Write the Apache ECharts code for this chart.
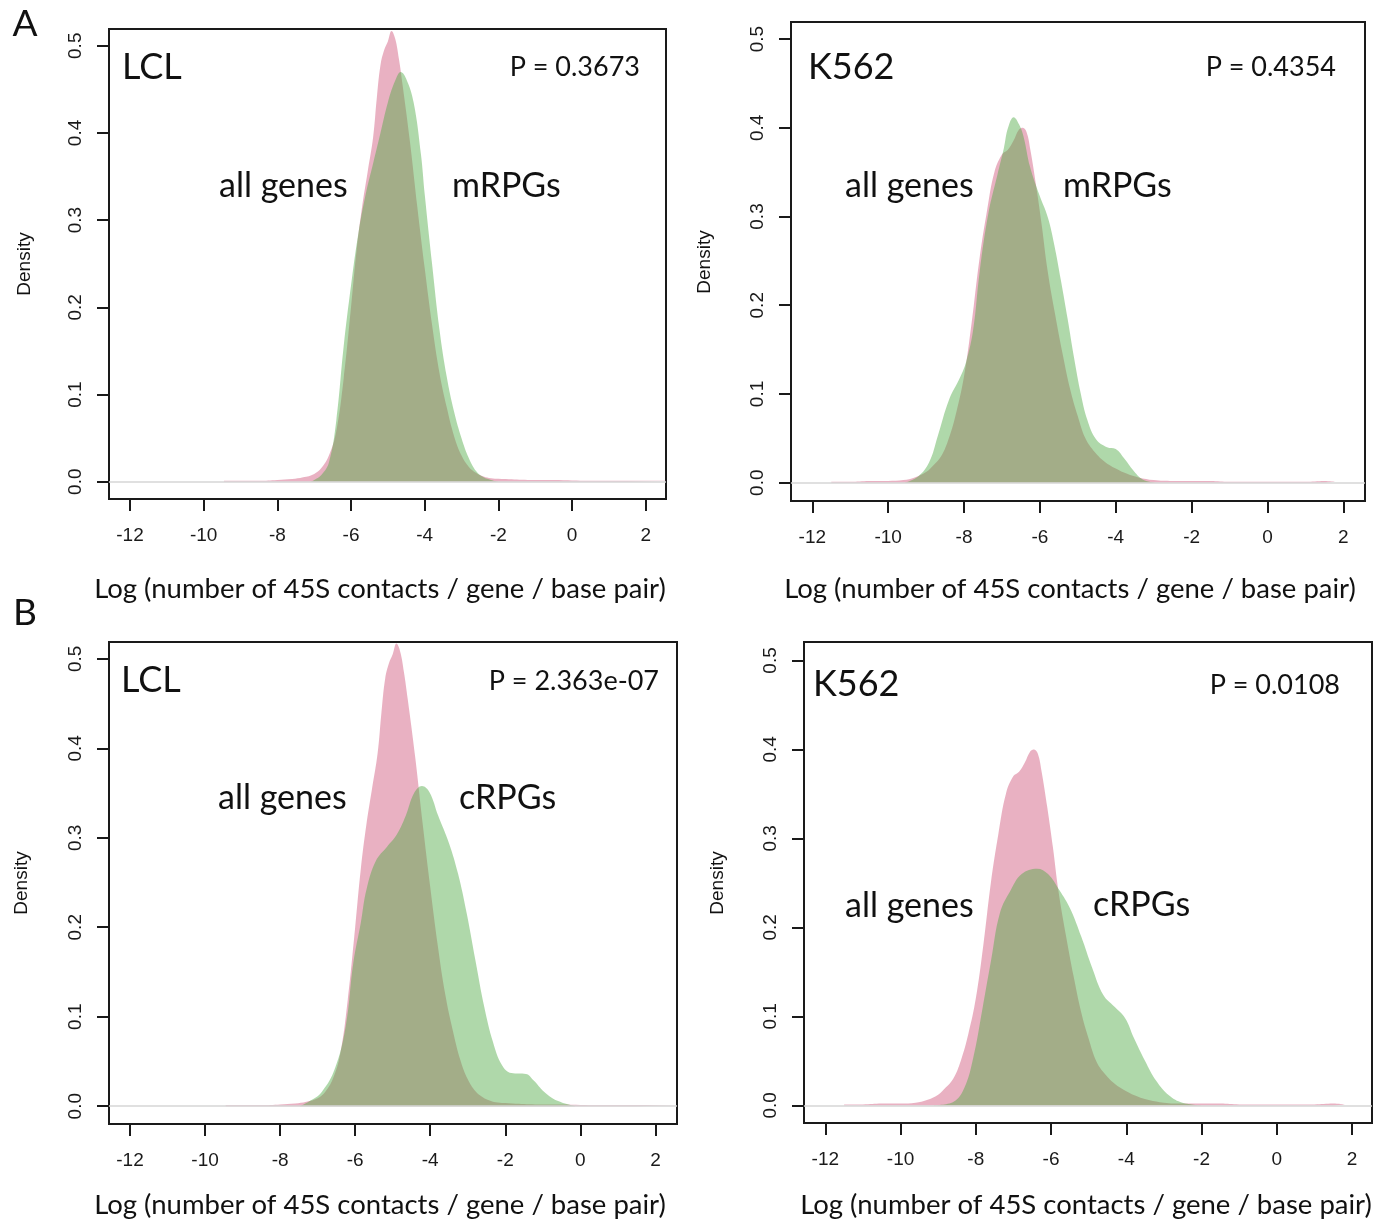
<!DOCTYPE html>
<html><head><meta charset="utf-8">
<script src="https://cdn.jsdelivr.net/npm/echarts@6/dist/echarts.min.js"></script>
<style>html,body{margin:0;padding:0;background:#fff}#c{width:1379px;height:1220px}</style>
</head><body><div id="c"></div>
<script>
// ---- data ----
const xTicks = [-12, -10, -8, -6, -4, -2, 0, 2];
const yTicks = [0, 0.1, 0.2, 0.3, 0.4, 0.5];

const lclAllGenes = [
  [-9.45,0.001],[-9.0,0.001],[-8.5,0.001],[-8.0,0.002],[-7.6,0.003],[-7.3,0.005],[-7.0,0.009],
  [-6.8,0.016],[-6.6,0.03],[-6.4,0.058],[-6.2,0.118],[-6.0,0.2],[-5.85,0.265],[-5.7,0.315],
  [-5.55,0.355],[-5.4,0.395],[-5.3,0.44],[-5.2,0.478],[-5.1,0.495],[-5.0,0.505],[-4.9,0.517],
  [-4.8,0.508],[-4.7,0.485],[-4.6,0.455],[-4.4,0.39],[-4.2,0.315],[-4.0,0.245],[-3.8,0.18],
  [-3.6,0.125],[-3.4,0.085],[-3.2,0.052],[-3.0,0.03],[-2.8,0.017],[-2.6,0.01],[-2.4,0.006],
  [-2.2,0.004],[-1.8,0.003],[-1.2,0.002],[-0.5,0.002],[0.5,0.001],[1.5,0.001],[2.6,0.001]
];
const lclMRPGs = [
  [-7.1,0.0],[-7.0,0.002],[-6.8,0.008],[-6.6,0.022],[-6.4,0.07],[-6.2,0.155],[-6.0,0.225],
  [-5.8,0.285],[-5.6,0.33],[-5.4,0.365],[-5.2,0.4],[-5.0,0.435],[-4.8,0.46],[-4.65,0.47],
  [-4.5,0.462],[-4.3,0.435],[-4.1,0.375],[-4.0,0.33],[-3.8,0.25],[-3.6,0.175],[-3.4,0.12],
  [-3.2,0.08],[-3.0,0.05],[-2.8,0.027],[-2.6,0.012],[-2.4,0.005],[-2.2,0.002],[-2.0,0.0]
];
const lclCRPGs = [
  [-7.47,0.0],[-7.24,0.005],[-6.89,0.016],[-6.54,0.042],[-6.25,0.09],[-6.05,0.16],[-5.85,0.205],
  [-5.7,0.242],[-5.45,0.274],[-5.15,0.29],[-4.9,0.303],[-4.65,0.325],[-4.43,0.35],[-4.22,0.358],
  [-4.02,0.351],[-3.79,0.325],[-3.5,0.294],[-3.26,0.26],[-3.03,0.216],[-2.8,0.164],[-2.56,0.111],
  [-2.33,0.072],[-2.09,0.046],[-1.84,0.037],[-1.45,0.036],[-1.25,0.029],[-0.96,0.016],
  [-0.61,0.006],[-0.14,0.0]
];
const k562AllGenes = [
  [-11.5,0.001],[-11.0,0.001],[-10.5,0.002],[-10.0,0.002],[-9.6,0.003],[-9.3,0.006],[-9.0,0.012],
  [-8.8,0.02],[-8.6,0.03],[-8.4,0.05],[-8.2,0.08],[-8.0,0.12],[-7.8,0.18],[-7.6,0.25],[-7.4,0.305],
  [-7.2,0.35],[-7.0,0.37],[-6.85,0.375],[-6.7,0.385],[-6.55,0.398],[-6.45,0.4],[-6.35,0.395],
  [-6.25,0.375],[-6.1,0.335],[-5.95,0.29],[-5.8,0.24],[-5.6,0.19],[-5.4,0.145],[-5.2,0.105],
  [-5.0,0.075],[-4.8,0.05],[-4.6,0.037],[-4.3,0.024],[-4.0,0.016],[-3.7,0.01],[-3.4,0.006],
  [-3.0,0.003],[-2.5,0.002],[-2.0,0.002],[-1.5,0.002],[-1.0,0.001],[0.0,0.001],[1.0,0.001],
  [1.5,0.002],[1.8,0.001]
];
const k562MRPGs = [
  [-9.56,0.0],[-9.21,0.007],[-8.92,0.023],[-8.69,0.053],[-8.4,0.093],[-8.1,0.119],[-7.94,0.137],
  [-7.76,0.172],[-7.59,0.237],[-7.36,0.303],[-7.12,0.347],[-6.95,0.377],[-6.84,0.4],[-6.69,0.412],
  [-6.55,0.404],[-6.43,0.39],[-6.26,0.356],[-6.02,0.325],[-5.79,0.299],[-5.62,0.268],[-5.45,0.229],
  [-5.27,0.185],[-5.1,0.141],[-4.92,0.1],[-4.75,0.071],[-4.52,0.049],[-4.23,0.04],[-4.0,0.038],
  [-3.77,0.027],[-3.54,0.014],[-3.3,0.004],[-2.96,0.0]
];
const k562CRPGs = [
  [-9.11,0.0],[-8.59,0.004],[-8.3,0.02],[-8.06,0.055],[-7.83,0.107],[-7.59,0.164],[-7.36,0.216],
  [-7.07,0.242],[-6.78,0.26],[-6.37,0.266],[-6.08,0.26],[-5.78,0.242],[-5.49,0.221],[-5.2,0.19],
  [-4.91,0.155],[-4.61,0.124],[-4.32,0.111],[-4.03,0.098],[-3.8,0.076],[-3.5,0.05],[-3.21,0.028],
  [-2.86,0.011],[-2.51,0.003],[-1.98,0.0]
];

const panelLabels = ['LCL', 'K562', 'LCL', 'K562'];
const pValues = ['P = 0.3673', 'P = 0.4354', 'P = 2.363e-07', 'P = 0.0108'];
const baseName = 'all genes';
const groupNames = ['mRPGs', 'mRPGs', 'cRPGs', 'cRPGs'];
const figLetters = ['A', 'B'];
const xTitle = 'Log (number of 45S contacts / gene / base pair)';
const yTitle = 'Density';

const baseData = [lclAllGenes, k562AllGenes, lclAllGenes, k562AllGenes];
const groupData = [lclMRPGs, k562MRPGs, lclCRPGs, k562CRPGs];

// ---- layout (pixels) ----
const grids = [
  {left:109, top:29,  width:557, height:470, xr:[-12.570,2.551], yr:[-0.0198,0.5192]},
  {left:791, top:22,  width:574, height:479, xr:[-12.562,2.572], yr:[-0.0206,0.5192]},
  {left:109, top:642, width:568, height:482, xr:[-12.559,2.575], yr:[-0.0199,0.5188]},
  {left:804, top:642, width:568, height:481, xr:[-12.566,2.531], yr:[-0.0198,0.5207]}
];
const textPos = [
  {lab:[122,67], p:[640,67], base:[219,186], grp:[452,186], xt:[380,589], yt:[25,264]},
  {lab:[808,67], p:[1336,67], base:[845,186], grp:[1063,186], xt:[1070,589], yt:[705,262]},
  {lab:[121,680], p:[659,681], base:[218,798], grp:[459,798], xt:[380,1205], yt:[22,883]},
  {lab:[813,684], p:[1340,685], base:[845,906], grp:[1093,905], xt:[1086,1205], yt:[718,883]}
];
const letterPos = [[25,24],[25,613]];

const PINK = 'rgb(206,82,119)';
const GREEN = 'rgb(78,169,67)';
const HUM = 'Lato, "Open Sans", sans-serif';
const ARIAL = '"Liberation Sans", Arial, sans-serif';

const option = {
  animation: false,
  backgroundColor: '#fff',
  grid: grids.map(g => ({left:g.left, top:g.top, width:g.width, height:g.height,
    show:true, borderColor:'#1a1a1a', borderWidth:2, backgroundColor:'transparent', containLabel:false})),
  xAxis: grids.map((g,i) => ({
    type:'value', gridIndex:i, min:g.xr[0], max:g.xr[1],
    axisLine:{show:false, onZero:false},
    splitLine:{show:false},
    axisTick:{show:true, length:12, inside:false, customValues:xTicks, lineStyle:{color:'#1a1a1a', width:2}},
    axisLabel:{show:true, customValues:xTicks, margin:27, fontSize:19, fontFamily:ARIAL, color:'#1a1a1a'}
  })),
  yAxis: grids.map((g,i) => ({
    type:'value', gridIndex:i, min:g.yr[0], max:g.yr[1],
    axisLine:{show:false, onZero:false},
    splitLine:{show:false},
    axisTick:{show:true, length:12, inside:false, customValues:yTicks, lineStyle:{color:'#1a1a1a', width:2}},
    axisLabel:{show:true, customValues:yTicks, rotate:90, margin:24, fontSize:19, fontFamily:ARIAL, color:'#1a1a1a',
      formatter: v => v.toFixed(1)}
  })),
  series: [],
  graphic: []
};

grids.forEach((g,i) => {
  option.series.push({
    type:'line', xAxisIndex:i, yAxisIndex:i, z:1, silent:true, data:[],
    markLine:{silent:true, symbol:'none', label:{show:false},
      lineStyle:{color:'#d6d6d6', width:1.5, type:'solid'}, data:[{yAxis:0}]}
  });
  option.series.push({
    type:'line', name:baseName, xAxisIndex:i, yAxisIndex:i, z:2, data:baseData[i],
    smooth:0.4, showSymbol:false, symbol:'none', sampling:null,
    lineStyle:{width:0, opacity:0}, areaStyle:{color:PINK, opacity:0.45, origin:'auto'}
  });
  option.series.push({
    type:'line', name:groupNames[i], xAxisIndex:i, yAxisIndex:i, z:3, data:groupData[i],
    smooth:0.4, showSymbol:false, symbol:'none', sampling:null,
    lineStyle:{width:0, opacity:0}, areaStyle:{color:GREEN, opacity:0.45, origin:'auto'}
  });
  const t = textPos[i];
  const txt = (s, pos, size, align, font, rot) => ({
    type:'text', x:pos[0], y:pos[1], rotation: rot || 0, silent:true, z:10,
    style:{text:s, fill:'#111', font: size + 'px ' + font, textAlign:align, textVerticalAlign:'middle'}
  });
  option.graphic.push(txt(panelLabels[i], t.lab, 36, 'left', HUM));
  option.graphic.push(txt(pValues[i], t.p, 27, 'right', HUM));
  option.graphic.push(txt(baseName, t.base, 34, 'left', HUM));
  option.graphic.push(txt(groupNames[i], t.grp, 34, 'left', HUM));
  option.graphic.push(txt(xTitle, t.xt, 27.5, 'center', HUM));
  option.graphic.push(txt(yTitle, t.yt, 19, 'center', ARIAL, Math.PI/2));
});
figLetters.forEach((L,k) => {
  option.graphic.push({type:'text', x:letterPos[k][0], y:letterPos[k][1], silent:true,
    style:{text:L, fill:'#111', font:'37px ' + HUM, textAlign:'center', textVerticalAlign:'middle'}});
});

const chart = echarts.init(document.getElementById('c'), null, {renderer:'canvas'});
chart.setOption(option);
</script>
</body></html>
